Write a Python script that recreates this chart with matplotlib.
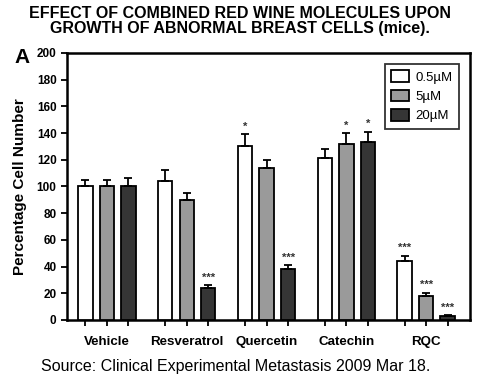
import numpy as np
import matplotlib
matplotlib.use("Agg")
import matplotlib.pyplot as plt

plt.rcParams["font.family"] = ["Liberation Sans", "DejaVu Sans"]

categories = ["Vehicle", "Resveratrol", "Quercetin", "Catechin", "RQC"]
doses = ["0.5\u00b5M", "5\u00b5M", "20\u00b5M"]
low = [100, 104, 130, 121, 44]
mid = [100, 90, 114, 132, 18]
high = [100, 24, 38, 133, 3]
low_err = [5, 8, 9, 7, 4]
mid_err = [5, 5, 6, 8, 2.5]
high_err = [6, 2, 3, 8, 0.5]
low_sig = ["", "", "*", "", "***"]
mid_sig = ["", "", "", "*", "***"]
high_sig = ["", "***", "***", "*", "***"]

colors = ["white", "#9a9a9a", "#353535"]
offsets = [-0.27, 0.0, 0.27]
width = 0.18

fig = plt.figure(figsize=(4.8, 3.79), dpi=100)
ax = fig.add_axes([0.1396, 0.1557, 0.8396, 0.7045])

x = np.arange(len(categories))
series = [(low, low_err, low_sig), (mid, mid_err, mid_sig), (high, high_err, high_sig)]
for (vals, errs, sigs), off, col, lab in zip(series, offsets, colors, doses):
    xs = x + off
    ax.bar(xs, vals, width, color=col, edgecolor="black", linewidth=1.3,
           label=lab, zorder=3)
    ax.errorbar(xs, vals, yerr=[np.zeros(len(vals)), errs], fmt="none",
                ecolor="black", elinewidth=1.3, capsize=3, capthick=1.3, zorder=4)
    for xi, v, e, s in zip(xs, vals, errs, sigs):
        if s:
            ax.text(xi, v + e + 2, s, ha="center", va="bottom", fontsize=8,
                    fontweight="bold", color="#333333")

ax.set_xlim(-0.5, 4.55)
ax.set_ylim(0, 200)
ax.set_yticks(np.arange(0, 201, 20))
ax.set_xticks(np.concatenate([x + o for o in offsets]))
ax.set_xticklabels([])
ax.tick_params(axis="both", direction="out", width=1.3, length=4,
               labelsize=8.5)
for t in ax.get_yticklabels():
    t.set_fontweight("bold")
for sp in ax.spines.values():
    sp.set_linewidth(1.8)

for xi, c in zip(x, categories):
    ax.text(xi, -12, c, ha="center", va="top", fontsize=9.6, fontweight="bold",
            transform=ax.transData)

ax.set_ylabel("Percentage Cell Number", fontsize=11, fontweight="bold", labelpad=7)

leg = ax.legend(loc="upper right", fontsize=9.5, frameon=True, fancybox=False,
                edgecolor="black", handlelength=1.35, handleheight=1.0,
                handletextpad=0.5, borderpad=0.5, labelspacing=0.45,
                bbox_to_anchor=(0.99, 0.985))
leg.get_frame().set_linewidth(1.3)

fig.text(0.046, 0.847, "A", fontsize=15, fontweight="bold", va="center", ha="center")
fig.text(0.5, 0.985, "EFFECT OF COMBINED RED WINE MOLECULES UPON\nGROWTH OF ABNORMAL BREAST CELLS (mice).",
         ha="center", va="top", fontsize=11.5, fontweight="bold", linespacing=1.05)
fig.text(0.49, 0.034, "Source: Clinical Experimental Metastasis 2009 Mar 18.",
         ha="center", va="center", fontsize=11.5)

fig.savefig("out.png", dpi=100)
